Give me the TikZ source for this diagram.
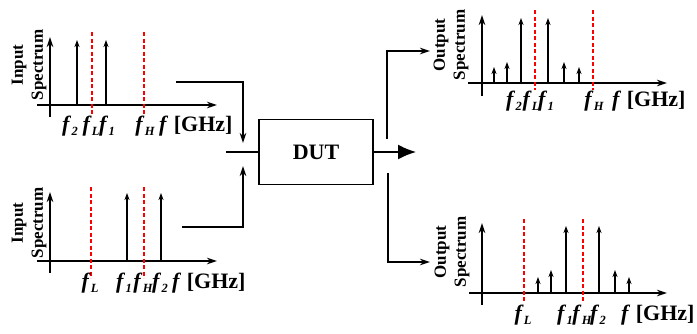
\documentclass[tikz,border=0pt]{standalone}
\usepackage{fontspec}
\setmainfont{Liberation Serif}
\usetikzlibrary{arrows.meta}
\newcommand{\fq}[1]{\textbf{\textit{f}}\kern0.2pt\raisebox{-0.45ex}{\fontsize{12.5}{12.5}\selectfont\bfseries\itshape #1}}
\newcommand{\fghz}{\textbf{\textit{f}} [GHz]}
\tikzset{
  ax/.style={line width=1.4pt, -{Stealth[length=10pt,width=6.5pt,inset=3pt]}},
  spike/.style={line width=1.1pt, -{Stealth[length=7pt,width=5pt,inset=2pt]}},
  cut/.style={red, line width=1.4pt, dash pattern=on 4pt off 2.5pt},
  conn/.style={line width=1.4pt, -{Stealth[length=10pt,width=6.5pt,inset=3pt]}},
  wire/.style={line width=1.4pt},
  lbl/.style={font=\fontsize{22}{22}\selectfont\bfseries, inner sep=0pt},
  ylbl/.style={font=\fontsize{17}{20}\selectfont\bfseries, rotate=90, align=center, inner sep=0pt},
  dutbox/.style={draw, line width=1.4pt, minimum width=114pt, minimum height=65pt, inner sep=0pt, font=\fontsize{22}{22}\selectfont\bfseries},
}
\begin{document}
\begin{tikzpicture}[x=1pt,y=-1pt]
\useasboundingbox (0,0) rectangle (697,333);

% ---------- top-left input spectrum ----------
\node[ylbl] (tlY) at (29,65) {Input\\Spectrum};
\draw[ax] (50,117) -- (50,37);
\draw[ax] (37,105) -- (217,105);
\draw[spike] (77,105) -- (77,40);
\draw[spike] (106,105) -- (106,40);
\draw[cut] (92,32) -- (92,115);
\draw[cut] (144,32) -- (144,115);
\node[lbl] (tl2) at (70,126) {\fq{2}};
\node[lbl] (tlL) at (91,126) {\fq{L}};
\node[lbl] (tl1) at (107,126) {\fq{1}};
\node[lbl] (tlH) at (145,126) {\fq{H}};
\node[lbl,anchor=west] (tlf) at (159,126) {\fghz};

% ---------- bottom-left input spectrum ----------
\node[ylbl] (blY) at (29,223) {Input\\Spectrum};
\draw[ax] (50,273) -- (50,192);
\draw[ax] (37,261) -- (217,261);
\draw[spike] (127,261) -- (127,193);
\draw[spike] (161,261) -- (161,193);
\draw[cut] (91,187) -- (91,278);
\draw[cut] (144,187) -- (144,278);
\node[lbl] (blL) at (90,283) {\fq{L}};
\node[lbl] (bl1) at (124,283) {\fq{1}};
\node[lbl] (blH) at (143,283) {\fq{H}};
\node[lbl] (bl2) at (160,283) {\fq{2}};
\node[lbl,anchor=west] (blf) at (172,283) {\fghz};

% ---------- DUT and connectors ----------
\node[dutbox] (dut) at (316,152) {DUT};
\coordinate (a1) at (176,82);
\coordinate (a1end) at (243,143);
\coordinate (a2) at (182,227);
\coordinate (a2end) at (243,166);
\coordinate (stub) at (226,152);
\draw[conn] (a1) -| (a1end);
\draw[conn] (a2) -| (a2end);
\draw[wire] (stub) -- (dut.west);
\coordinate (outtip) at (416,152);
\draw[line width=1.4pt, -{Latex[length=18pt,width=15pt]}] (dut.east) -- (outtip);
\coordinate (b1) at (387,139);
\coordinate (b1end) at (430,51);
\coordinate (b2) at (388,173);
\coordinate (b2end) at (430,262);
\draw[conn] (b1) |- (b1end);
\draw[conn] (b2) |- (b2end);

% ---------- top-right output spectrum ----------
\node[ylbl] (trY) at (451,45) {Output\\Spectrum};
\draw[ax] (482,96) -- (482,15);
\draw[ax] (468,83) -- (667,83);
\foreach \x/\t in {494/67,507/62,521/18,548/18,564/62,579/67}
  \draw[spike] (\x,83) -- (\x,\t);
\draw[cut] (535,10) -- (535,90);
\draw[cut] (593,10) -- (593,90);
\node[lbl] (tr2) at (514,101) {\fq{2}};
\node[lbl] (trL) at (531,101) {\fq{L}};
\node[lbl] (tr1) at (546,101) {\fq{1}};
\node[lbl] (trH) at (594,101) {\fq{H}};
\node[lbl,anchor=west] (trf) at (612,101) {\fghz};

% ---------- bottom-right output spectrum ----------
\node[ylbl] (brY) at (452,252) {Output\\Spectrum};
\draw[ax] (482,305) -- (482,223);
\draw[ax] (469,293) -- (667,293);
\foreach \x/\t in {538/277,551/270,566/226,599/226,615/270,629/277}
  \draw[spike] (\x,293) -- (\x,\t);
\draw[cut] (524,219) -- (524,302);
\draw[cut] (583,219) -- (583,302);
\node[lbl] (brL) at (523,315) {\fq{L}};
\node[lbl] (br1) at (565,315) {\fq{1}};
\node[lbl] (brH) at (582,315) {\fq{H}};
\node[lbl] (br2) at (598,315) {\fq{2}};
\node[lbl,anchor=west] (brf) at (621,315) {\fghz};
\end{tikzpicture}
\end{document}
